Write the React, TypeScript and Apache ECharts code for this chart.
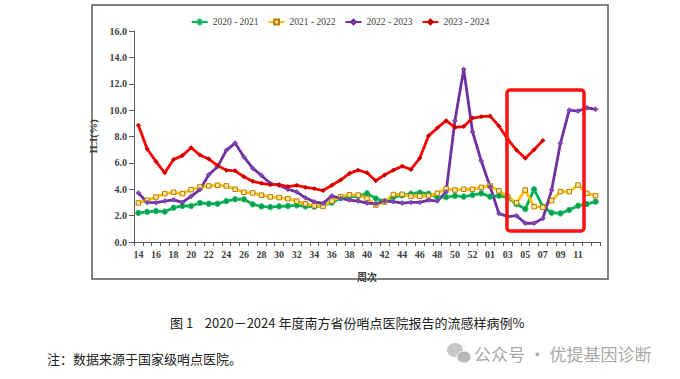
import React, { useEffect, useRef } from "react";
import * as echarts from "echarts";

const weeks = [
  "14", "15", "16", "17", "18", "19", "20", "21", "22", "23", "24", "25", "26", "27", "28", "29", "30",
  "31", "32", "33", "34", "35", "36", "37", "38", "39", "40", "41", "42", "43", "44", "45", "46", "47",
  "48", "49", "50", "51", "52", "53", "01", "02", "03", "04", "05", "06", "07", "08", "09", "10", "11",
  "12", "13",
];

const s2020 = [
  2.2, 2.28, 2.35, 2.3, 2.6, 2.73, 2.73, 2.96, 2.9, 2.9, 3.1, 3.24, 3.24, 2.86, 2.7, 2.65, 2.7,
  2.73, 2.78, 2.7, 2.68, 2.75, 2.98, 3.33, 3.42, 3.46, 3.69, 3.3, 3.08, 3.4, 3.53, 3.66, 3.74, 3.66,
  3.4, 3.4, 3.5, 3.44, 3.56, 3.69, 3.44, 3.51, 3.38, 2.88, 2.5, 3.99, 2.68, 2.22, 2.17, 2.43, 2.75,
  2.88, 3.06,
];

const s2021 = [
  2.96, 3.16, 3.41, 3.67, 3.77, 3.67, 3.97, 4.17, 4.25, 4.3, 4.25, 4.0, 3.77, 3.72, 3.55, 3.42, 3.37,
  3.28, 3.1, 2.9, 2.75, 2.7, 3.1, 3.44, 3.58, 3.56, 3.3, 2.8, 3.05, 3.6, 3.62, 3.47, 3.47, 3.5,
  3.69, 4.04, 3.94, 4.0, 4.0, 4.14, 4.25, 3.88, 3.44, 2.98, 3.94, 2.68, 2.63, 3.13, 3.82, 3.82, 4.32,
  3.69, 3.51,
];

const s2022 = [
  3.72, 3.0, 2.98, 3.1, 3.2, 3.0, 3.46, 3.97, 5.1, 5.7, 6.95, 7.5, 6.45, 5.6, 5.05, 4.43, 4.3,
  4.0, 3.8, 3.35, 3.05, 2.93, 3.5, 3.3, 3.18, 3.1, 2.95, 2.9, 3.1, 3.06, 2.95, 3.0, 3.0, 3.18,
  3.1, 3.8, 9.2, 13.1, 8.36, 6.14, 4.2, 2.17, 1.92, 2.0, 1.42, 1.42, 1.79, 3.94, 7.48, 10.0, 9.93,
  10.18, 10.06,
];

const s2023 = [
  8.85, 7.05, 6.1, 5.25, 6.25, 6.55, 7.15, 6.6, 6.3, 5.8, 5.45, 5.4, 4.95, 4.6, 4.45, 4.35, 4.35,
  4.2, 4.3, 4.15, 4.05, 3.9, 4.3, 4.7, 5.2, 5.45, 5.25, 4.65, 5.08, 5.45, 5.75, 5.5, 6.35, 8.05,
  8.65, 9.2, 8.7, 8.75, 9.4, 9.5, 9.55, 8.8, 7.8, 6.97, 6.35, 7.0, 7.7,
];

const seriesNames = ["2020 - 2021", "2021 - 2022", "2022 - 2023", "2023 - 2024"];
const yTicks = [0, 2, 4, 6, 8, 10, 12, 14, 16];

const caption = "图 1    2020－2024 年度南方省份哨点医院报告的流感样病例%";
const note = "注：数据来源于国家级哨点医院。";
const watermark = "公众号 · 优提基因诊断";

const serif = "'Liberation Serif', 'Times New Roman', serif";
const sans = "'Noto Sans CJK SC', 'Noto Sans', sans-serif";

export default function App() {
  const ref = useRef<HTMLDivElement>(null);
  useEffect(() => {
    if (!ref.current) return;
    const chart = echarts.init(ref.current, undefined, { renderer: "svg" });
    const lineW = 2.8;
    chart.setOption({
      animation: false,
      backgroundColor: "#ffffff",
      legend: {
        data: seriesNames,
        top: 12,
        left: "center",
        itemGap: 9,
        itemWidth: 16,
        itemHeight: 6,
        textStyle: { fontFamily: serif, fontSize: 9.5, color: "#404040" },
      },
      grid: { left: 134, right: 80, top: 31, bottom: 137 },
      xAxis: {
        type: "category",
        data: weeks,
        boundaryGap: true,
        name: "周次",
        nameLocation: "middle",
        nameGap: 29,
        nameTextStyle: { fontFamily: sans, fontSize: 10, fontWeight: "bold", color: "#404040" },
        axisLine: { lineStyle: { color: "#595959", width: 1 } },
        axisTick: { show: true, interval: 0, length: 4, lineStyle: { color: "#595959" } },
        axisLabel: {
          interval: (i: number) => i % 2 === 0 && i <= 50,
          fontFamily: serif,
          fontWeight: "bold",
          fontSize: 10,
          color: "#404040",
          margin: 7,
        },
        splitLine: { show: false },
      },
      yAxis: {
        type: "value",
        min: 0,
        max: 16,
        interval: 2,
        name: "ILI(%)",
        nameLocation: "middle",
        nameRotate: 90,
        nameGap: 27,
        nameTextStyle: { fontFamily: serif, fontSize: 11, fontWeight: "bold", color: "#404040" },
        axisLine: { show: true, lineStyle: { color: "#595959", width: 1 } },
        axisTick: { show: true, length: 5, lineStyle: { color: "#595959" } },
        axisLabel: {
          formatter: (v: number) => (yTicks.includes(v) ? v.toFixed(1) : ""),
          fontFamily: serif,
          fontWeight: "bold",
          fontSize: 10,
          color: "#404040",
          margin: 7,
        },
        splitLine: { show: false },
      },
      series: [
        {
          name: seriesNames[0],
          type: "line",
          data: s2020,
          symbol: "circle",
          symbolSize: 5.5,
          lineStyle: { color: "#00B050", width: lineW },
          itemStyle: { color: "#00A050", borderColor: "#33C070", borderWidth: 1 },
        },
        {
          name: seriesNames[1],
          type: "line",
          data: s2021,
          symbol: "rect",
          symbolSize: 4.5,
          lineStyle: { color: "#FFC000", width: lineW },
          itemStyle: { color: "#FFE9A0", borderColor: "#B87A00", borderWidth: 1 },
        },
        {
          name: seriesNames[2],
          type: "line",
          data: s2022,
          symbol: "diamond",
          symbolSize: 5,
          lineStyle: { color: "#7030A0", width: lineW },
          itemStyle: { color: "#8048B0", borderColor: "#6A2C9A", borderWidth: 0.5 },
        },
        {
          name: seriesNames[3],
          type: "line",
          data: s2023,
          symbol: "diamond",
          symbolSize: 4.5,
          lineStyle: { color: "#FF0000", width: lineW },
          itemStyle: { color: "#C00000", borderColor: "#C00000", borderWidth: 0.5 },
        },
      ],
      graphic: [
        {
          type: "rect",
          shape: { x: 92, y: 5, width: 516, height: 274 },
          style: { fill: "none", stroke: "#595959", lineWidth: 1.5 },
          silent: true,
        },
        {
          type: "rect",
          shape: { x: 507, y: 90, width: 77, height: 141, r: 3 },
          style: { fill: "none", stroke: "#FF1010", lineWidth: 3.5 },
          silent: true,
          z: 10,
        },
        {
          type: "text",
          x: 170,
          y: 322,
          style: {
            text: caption,
            font: `13px ${sans}`,
            fill: "#222222",
            textVerticalAlign: "middle",
          },
        },
        {
          type: "text",
          x: 47,
          y: 358,
          style: {
            text: note,
            font: `13px ${sans}`,
            fill: "#222222",
            textVerticalAlign: "middle",
          },
        },
        {
          type: "ellipse",
          shape: { cx: 455, cy: 350, rx: 8, ry: 7 },
          style: { fill: "#c8c8c8" },
        },
        {
          type: "ellipse",
          shape: { cx: 464, cy: 357, rx: 7, ry: 6 },
          style: { fill: "#b8b8b8", stroke: "#ffffff", lineWidth: 1 },
        },
        {
          type: "text",
          x: 474,
          y: 353,
          style: {
            text: watermark,
            font: `17px ${sans}`,
            fill: "#a8a8a8",
            textVerticalAlign: "middle",
          },
        },
      ],
    });
    return () => chart.dispose();
  }, []);
  return (
    <div
      ref={ref}
      style={{ position: "fixed", left: 0, top: 0, width: 680, height: 379 }}
    />
  );
}
